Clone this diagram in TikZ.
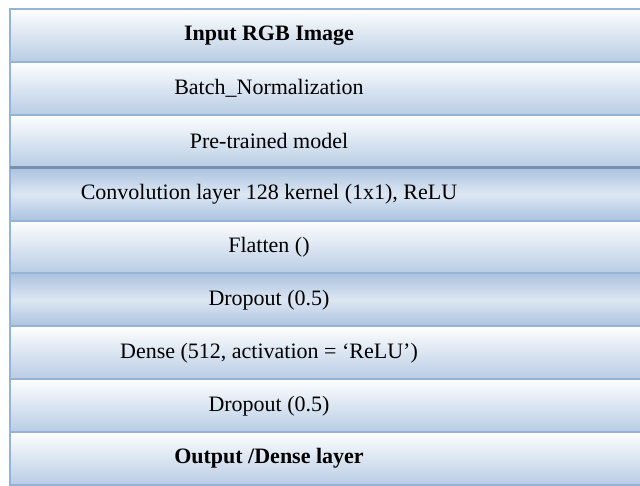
\documentclass[tikz,border=0pt]{standalone}
\usepackage{fontspec}
\setmainfont{Liberation Serif}
\usepackage{xcolor}
\usepackage{tikz}
\usetikzlibrary{positioning}
\definecolor{layerblue}{HTML}{B8CCE4}
\definecolor{layeredge}{HTML}{95B3D7}
\definecolor{layerlight}{HTML}{DDE7F3}
\definecolor{layerdark}{HTML}{ABC2DF}
\definecolor{seamgray}{HTML}{7890AF}
% text sits left of the row's middle, as in the table
\newcommand{\layertext}[1]{\makebox[518pt]{#1}\hspace*{114pt}}

\begin{document}
\begin{tikzpicture}[x=1pt,y=1pt,
  layer/.style={rectangle,draw=layeredge,line width=2pt,minimum width=632pt,
    minimum height=52.9pt,inner sep=0pt,outer sep=0pt,anchor=north west,
    top color=white!98!layerblue,bottom color=layerblue,
    font=\fontsize{22}{26}\selectfont},
  midlayer/.style={layer,top color=layerdark,bottom color=layerdark,
    middle color=layerlight}]
  \clip (0,0) rectangle (640,-486);
  \fill[white] (0,0) rectangle (640,-486);
  \node[layer] (inp) at (10,-9) {\layertext{\textbf{Input RGB Image}}};
  \node[layer,below=0pt of inp.south west,anchor=north west] (bn)
    {\layertext{Batch\_Normalization}};
  \node[layer,below=0pt of bn.south west,anchor=north west] (pre)
    {\layertext{Pre-trained model}};
  \node[midlayer,below=0pt of pre.south west,anchor=north west] (conv)
    {\layertext{Convolution layer 128 kernel (1x1), ReLU}};
  \node[layer,below=0pt of conv.south west,anchor=north west] (flat)
    {\layertext{Flatten ()}};
  \node[midlayer,below=0pt of flat.south west,anchor=north west] (dropa)
    {\layertext{Dropout (0.5)}};
  \node[layer,below=0pt of dropa.south west,anchor=north west] (dense)
    {\layertext{Dense (512, activation = ‘ReLU’)}};
  \node[layer,below=0pt of dense.south west,anchor=north west] (dropb)
    {\layertext{Dropout (0.5)}};
  \node[layer,below=0pt of dropb.south west,anchor=north west] (out)
    {\layertext{\textbf{Output /Dense layer}}};
  % dark seam under the pre-trained block
  \draw[seamgray,line width=3.5pt] (pre.south west) -- (pre.south east);
\end{tikzpicture}
\end{document}
